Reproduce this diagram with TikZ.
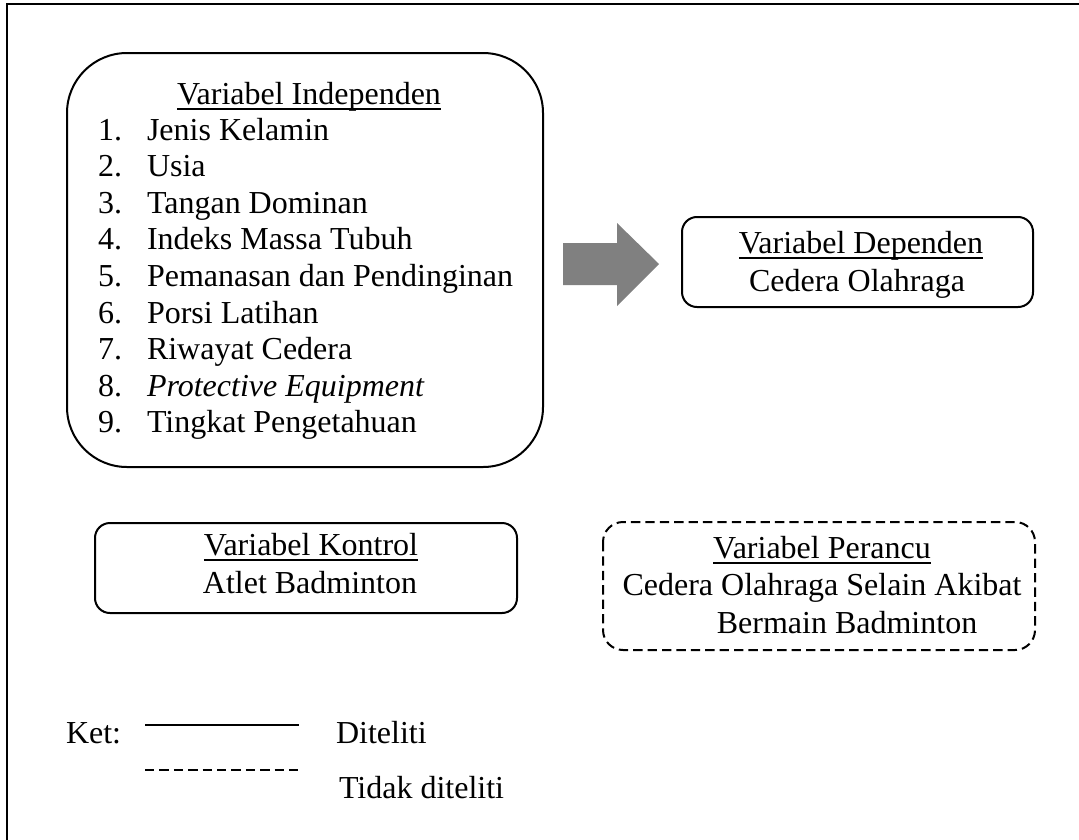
\documentclass[tikz,border=0pt]{standalone}
\usepackage{fontspec}
\setmainfont{Liberation Serif}
\newcommand{\ulin}[1]{\setbox0\hbox{#1}\rlap{\rule[-2.1pt]{\wd0}{0.6pt}}\box0}
\begin{document}
\begin{tikzpicture}[x=0.375pt,y=-0.375pt,line width=0.75pt,
  txt/.style={inner sep=0pt,font=\fontsize{12}{13.8}\selectfont},
  dashline/.style={dash pattern=on 3.5pt off 1.9pt}]
\useasboundingbox (0,0) rectangle (1079,839);
\clip (0,0) rectangle (1079,839);
\draw[line width=0.8pt] (7,900) -- (7,4) -- (1120,4);
% independen
\draw[rounded corners=22.5pt] (67,53) rectangle (543,467);
\node[txt,anchor=base] (indep) at (309,104) {\ulin{Variabel Independen}};
\foreach \n/\t [count=\i from 0] in {1/Jenis Kelamin,2/Usia,3/Tangan Dominan,4/Indeks Massa Tubuh,5/Pemanasan dan Pendinginan,6/Porsi Latihan,7/Riwayat Cedera,8/\textit{Protective Equipment},9/Tingkat Pengetahuan}{
  \node[txt,anchor=base west] (num\n) at (97,140+36.6*\i) {\n.};
  \node[txt,anchor=base west] (item\n) at (146,140+36.6*\i) {\t};
}
\fill[black!50] (563,243) -- (617,243) -- (617,223) -- (659,264) -- (617,306) -- (617,285) -- (563,285) -- cycle;
% dependen
\draw[rounded corners=5.6pt] (682,217) rectangle (1033,307);
\node[txt,anchor=base] (dep) at (861,253) {\ulin{Variabel Dependen}};
\node[txt,anchor=base] (cedera) at (857,291) {Cedera Olahraga};
% kontrol
\draw[rounded corners=5.6pt] (95,523) rectangle (517,613);
\node[txt,anchor=base] (kontrol) at (311,555) {\ulin{Variabel Kontrol}};
\node[txt,anchor=base] (atlet) at (310,593) {Atlet Badminton};
% perancu
\draw[dashline,rounded corners=7.5pt] (603,522) rectangle (1035,650);
\node[txt,anchor=base] (perancu) at (822,558) {\ulin{Variabel Perancu}};
\node[txt,anchor=base] (selain) at (822,595) {Cedera Olahraga Selain Akibat};
\node[txt,anchor=base] (bermain) at (847,633) {Bermain Badminton};
% keterangan
\node[txt,anchor=base west] (ket) at (65,743) {Ket:};
\coordinate (s1) at (145,725); \coordinate (s2) at (299,725);
\coordinate (d1) at (145,770); \coordinate (d2) at (299,770);
\draw (s1) -- (s2);
\draw[dashline] (d1) -- (d2);
\node[txt,anchor=base west] (diteliti) at (335,743) {Diteliti};
\node[txt,anchor=base west] (tidak) at (338,798) {Tidak diteliti};
\end{tikzpicture}
\end{document}
